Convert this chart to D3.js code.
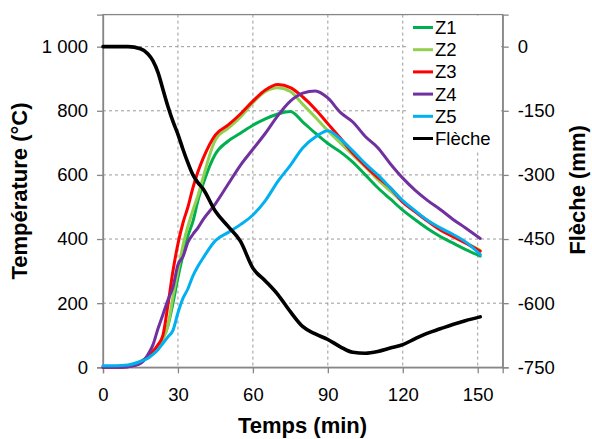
<!DOCTYPE html>
<html><head><meta charset="utf-8">
<script src="https://cdn.jsdelivr.net/npm/d3@7"></script>
<style>
html,body{margin:0;padding:0;background:#fff;}
svg{display:block;font-family:"Liberation Sans",Arial,sans-serif;}
</style></head>
<body><svg id="chart" width="592" height="439"></svg>
<script>
const times = [0,5,10,15,18,20,22,24,26,28,30,32,34,36,38,40,45,50,55,60,65,70,75,80,85,90,95,100,105,110,115,120,125,130,135,140,145,151];
const z1 = [0,2,5,18,32,45,65,90,130,200,280,350,410,455,520,570,665,705,730,755,775,790,798,765,730,698,672,640,600,560,525,490,460,432,408,388,368,347];
const z2 = [0,0,2,15,30,45,65,90,130,220,300,380,440,490,535,590,710,745,780,825,860,872,860,820,780,738,700,662,625,585,550,515,485,458,432,410,390,365];
const z3 = [0,0,2,15,35,50,70,100,195,300,385,450,500,560,610,650,725,755,790,830,865,882,872,843,805,760,715,668,628,592,560,515,485,455,428,408,388,362];
const z4 = [0,0,2,12,40,70,120,165,210,250,320,345,390,415,435,460,510,570,630,680,730,785,830,855,862,840,795,765,720,685,635,590,552,520,492,462,435,402];
const z5 = [5,5,7,18,28,40,55,75,95,115,170,215,245,285,315,340,395,420,445,475,520,580,630,685,718,738,712,675,635,600,560,520,488,458,435,415,392,352];
const fleche = [0,0,0,-5,-17,-33,-60,-100,-140,-175,-205,-240,-272,-300,-318,-332,-385,-420,-455,-518,-548,-580,-620,-655,-672,-685,-702,-715,-717,-713,-705,-697,-683,-670,-660,-650,-641,-632];

const seriesNames = ["Z1","Z2","Z3","Z4","Z5","Flèche"];
const seriesColors = ["#00B050","#92D050","#FF0000","#7030A0","#00B0F0","#000000"];
const xTicks = [0,30,60,90,120,150];
const yLeftTicks = [0,200,400,600,800,1000];
const yRightTicks = [0,-150,-300,-450,-600,-750];

const svg = d3.select("#chart");
const L = 103, R = 502.7, T = 14.6, B = 367.3;
const x = d3.scaleLinear().domain([0,160]).range([L,R]);
const yL = d3.scaleLinear().domain([0,1100]).range([B,T]);
const yR = d3.scaleLinear().domain([-750,75]).range([B,T]);
const gridColor = "#9a9a9a", axisColor = "#868686";

// grid
const g = svg.append("g");
g.selectAll(".hg").data(yLeftTicks.filter(d=>d>0)).join("line")
  .attr("x1",L).attr("x2",R).attr("y1",d=>yL(d)).attr("y2",d=>yL(d))
  .attr("stroke",gridColor).attr("stroke-dasharray","3,3").attr("stroke-width",1);
g.selectAll(".vg").data(xTicks.filter(d=>d>0)).join("line")
  .attr("x1",d=>x(d)).attr("x2",d=>x(d)).attr("y1",T).attr("y2",B)
  .attr("stroke",gridColor).attr("stroke-dasharray","3,3").attr("stroke-width",1);

// frame
svg.append("rect").attr("x",L).attr("y",T).attr("width",R-L).attr("height",B-T)
  .attr("fill","none").attr("stroke",axisColor).attr("stroke-width",1.3);

// axes
const fmt = d => d >= 1000 ? d3.format(",")(d).replace(",", " ") : String(d);
const axL = svg.append("g").attr("transform",`translate(${L},0)`)
  .call(d3.axisLeft(yL).tickValues(yLeftTicks).tickSize(6).tickPadding(9).tickFormat(fmt));
const axB = svg.append("g").attr("transform",`translate(0,${B})`)
  .call(d3.axisBottom(x).tickValues(xTicks).tickSize(6).tickPadding(15).tickFormat(d3.format("d")));
const axR = svg.append("g").attr("transform",`translate(${R},0)`)
  .call(d3.axisRight(yR).tickValues(yRightTicks).tickSize(6).tickPadding(9).tickFormat(d=>String(d)));
[axL,axB,axR].forEach(a=>{
  a.select(".domain").attr("stroke",axisColor).attr("stroke-width",1.3);
  a.selectAll(".tick line").attr("stroke",axisColor).attr("stroke-width",1.3);
  a.selectAll(".tick text").attr("fill","#000").style("font-size","18.5px").style("font-family","'Liberation Sans',Arial,sans-serif");
});

// lines
const allSeries = [z1,z2,z3,z4,z5];
const lineL = d3.line().x((d,i)=>x(times[i])).y(d=>yL(d)).curve(d3.curveMonotoneX);
const lineR = d3.line().x((d,i)=>x(times[i])).y(d=>yR(d)).curve(d3.curveMonotoneX);
allSeries.forEach((s,k)=>{
  svg.append("path").datum(s).attr("d",lineL).attr("fill","none")
    .attr("stroke",seriesColors[k]).attr("stroke-width",3).attr("stroke-linejoin","round").attr("stroke-linecap","round");
});
svg.append("path").datum(fleche).attr("d",lineR).attr("fill","none")
  .attr("stroke",seriesColors[5]).attr("stroke-width",3.6).attr("stroke-linejoin","round").attr("stroke-linecap","round");

// legend
const lg = svg.append("g");
lg.append("rect").attr("x",408).attr("y",T+1).attr("width",93).attr("height",135).attr("fill","#fff");
seriesNames.forEach((n,i)=>{
  const yy = 27.5 + i*22.2;
  lg.append("line").attr("x1",413).attr("x2",433).attr("y1",yy).attr("y2",yy)
    .attr("stroke",seriesColors[i]).attr("stroke-width",3);
  lg.append("text").attr("x",435).attr("y",yy).attr("dy","0.35em")
    .style("font-size","18.5px").text(n);
});

// titles
svg.append("text").attr("transform","translate(27,191) rotate(-90)").attr("text-anchor","middle")
  .style("font-size","22px").style("font-weight","bold").text("Température (°C)");
svg.append("text").attr("transform","translate(585,190) rotate(-90)").attr("text-anchor","middle")
  .style("font-size","22px").style("font-weight","bold").text("Flèche (mm)");
svg.append("text").attr("x",302.5).attr("y",433).attr("text-anchor","middle")
  .style("font-size","22px").style("font-weight","bold").text("Temps (min)");
</script></body></html>
